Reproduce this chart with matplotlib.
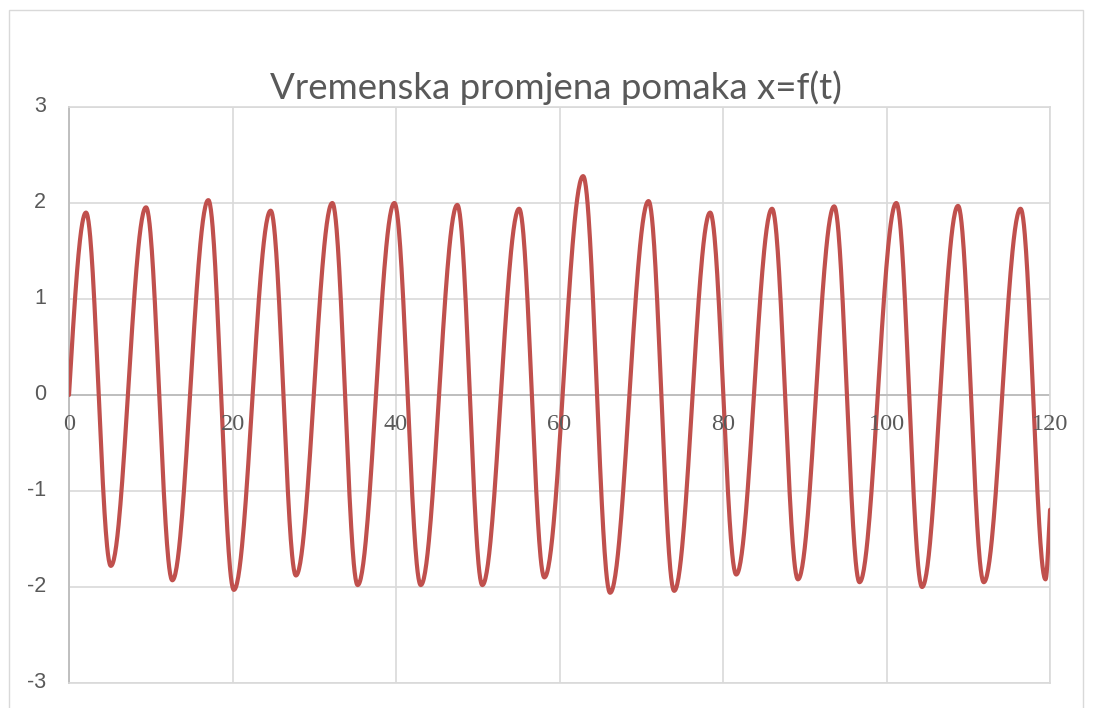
import numpy as np
import matplotlib
matplotlib.use("Agg")
import matplotlib.pyplot as plt
from matplotlib.patches import Rectangle

# ---- data ----
title = "Vremenska promjena pomaka x=f(t)"
start_t, start_v = 0.0, 0.0
peaks_t = [2.08, 9.42, 17.04, 24.67, 32.21, 39.8, 47.5, 55.06, 62.89, 70.89,
           78.43, 86.0, 93.6, 101.2, 108.75, 116.4]
peaks_v = [1.90, 1.955, 2.03, 1.92, 2.00, 2.00, 1.98, 1.94, 2.28, 2.02,
           1.90, 1.94, 1.965, 2.00, 1.97, 1.94]
troughs_t = [5.12, 12.64, 20.17, 27.76, 35.31, 43.03, 50.56, 58.15, 66.19, 74.03,
             81.62, 89.17, 96.7, 104.35, 111.9, 119.45]
troughs_v = [-1.78, -1.93, -2.03, -1.88, -1.98, -1.98, -1.98, -1.90, -2.06, -2.04,
             -1.87, -1.92, -1.95, -2.00, -1.95, -1.92]
end_t, end_v = 120.25, -1.0
x_ticks = [0, 20, 40, 60, 80, 100, 120]
y_ticks = [-3, -2, -1, 0, 1, 2, 3]

# ---- smooth line through the read key points (like a smoothed Excel line) ----
key_t = [start_t]
key_v = [start_v]
for pt, pv, tt, tv in zip(peaks_t, peaks_v, troughs_t, troughs_v):
    key_t += [pt, tt]
    key_v += [pv, tv]
key_t.append(end_t)
key_v.append(end_v)

ts, vs = [], []
for i in range(len(key_t) - 1):
    a_t, b_t = key_t[i], key_t[i + 1]
    a_v, b_v = key_v[i], key_v[i + 1]
    s = np.linspace(0, 1, 60)
    if i == 0:
        w = np.sin(np.pi / 2 * s)
    else:
        w = (1 - np.cos(np.pi * s)) / 2
    ts.extend(a_t + (b_t - a_t) * s)
    vs.extend(a_v + (b_v - a_v) * w)

W, H = 1095, 708
fig = plt.figure(figsize=(W / 100, H / 100), dpi=100)
fig.patch.set_facecolor("white")

# outer chart border
fig.patches.append(Rectangle((9 / W, -0.02), (1083 - 9) / W, 1 - 10 / H + 0.02,
                             transform=fig.transFigure, fill=False,
                             edgecolor="#d9d9d9", linewidth=1.0))

ax = fig.add_axes([69 / W, 1 - 683 / H, (1050 - 69) / W, (683 - 107) / H])
ax.set_xlim(0, 120)
ax.set_ylim(-3, 3)
ax.set_xticks(x_ticks)
ax.set_yticks(y_ticks)
ax.grid(True, color="#d9d9d9", linewidth=1.2)
ax.set_axisbelow(True)
for side in ["top", "right", "bottom"]:
    ax.spines[side].set_color("#d9d9d9")
    ax.spines[side].set_linewidth(1.2)
ax.spines["left"].set_color("#bfbfbf")
ax.spines["left"].set_linewidth(1.4)
ax.axhline(0, color="#bfbfbf", linewidth=1.4, zorder=1.5)
ax.tick_params(length=0)
ax.set_xticklabels([])
ax.set_yticklabels([])

ax.plot(ts, vs, color="#c0504d", linewidth=3.0, solid_capstyle="round", zorder=3)

for v in x_ticks:
    ax.text(v, -0.31, str(v), ha="center", va="center", fontsize=17.5,
            family="Liberation Serif", color="#595959", clip_on=False)
for v in y_ticks:
    ax.text(-2.8, v, str(v), ha="right", va="center", fontsize=15.5,
            family="Liberation Sans", color="#595959", clip_on=False)

fig.text(556 / W, 1 - 99 / H, title, ha="center", va="baseline",
         fontsize=26.4, family="Lato", color="#595959")

fig.savefig("out.png", dpi=100)
